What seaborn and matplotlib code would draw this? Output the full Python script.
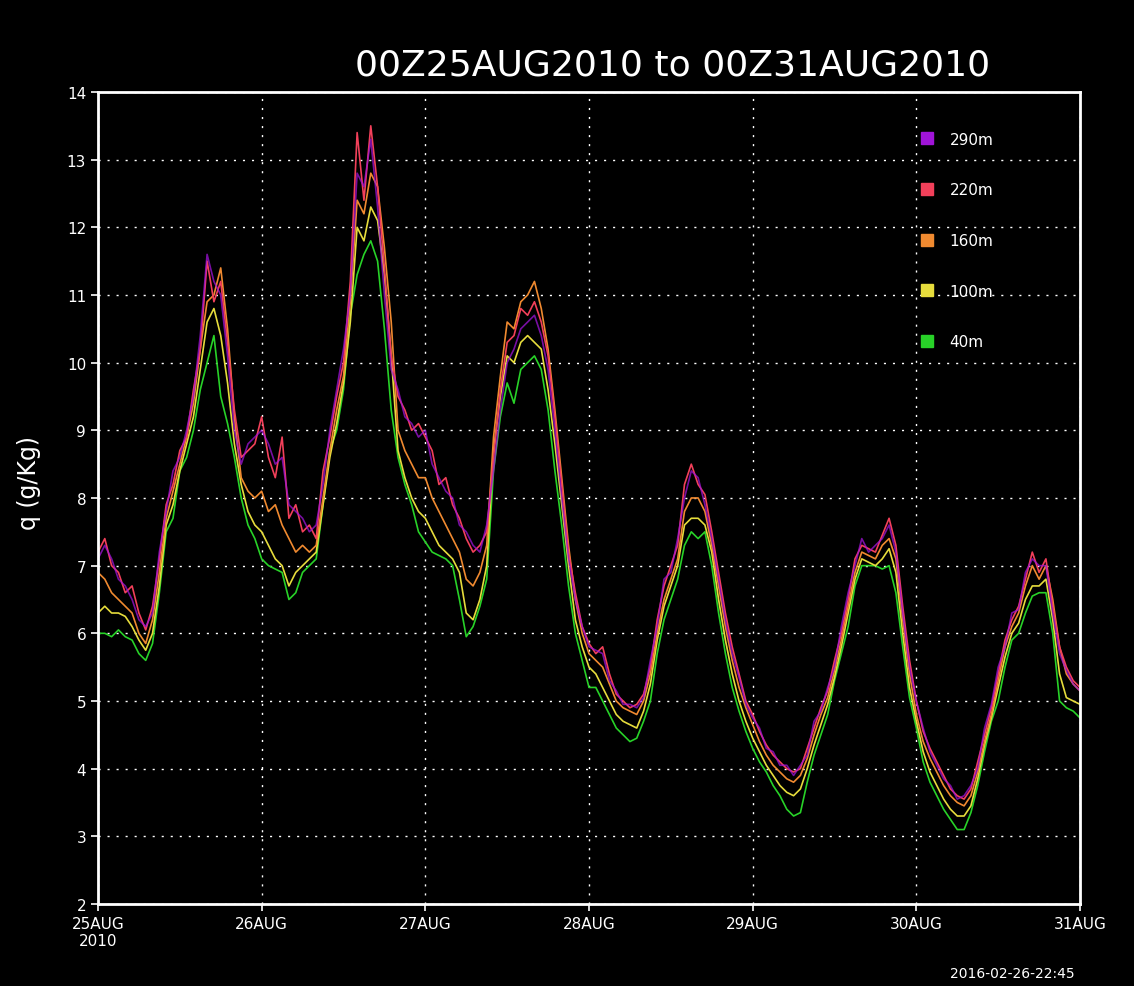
import numpy as np
import pandas as pd
import matplotlib
matplotlib.use("Agg")
import matplotlib.pyplot as plt
import seaborn as sns
from matplotlib.lines import Line2D

# ---------------- data (hourly, 00Z25AUG2010 .. 00Z31AUG2010) ----------------
q290 = [7.1, 7.3, 7.1, 6.8, 6.7, 6.5, 6.2, 6.1, 6.3, 7.2, 7.8, 8.4,
        8.6, 9.0, 9.5, 10.4, 11.6, 11.2, 11.0, 10.1, 9.0, 8.5, 8.8, 8.9,
        9.0, 8.8, 8.5, 8.6, 7.9, 7.8, 7.7, 7.5, 7.6, 8.2, 9.0, 9.6,
        10.2, 11.0, 12.8, 12.6, 13.3, 12.3, 11.0, 9.9, 9.6, 9.2, 9.1, 8.9,
        9.0, 8.5, 8.3, 8.1, 8.0, 7.6, 7.5, 7.3, 7.2, 7.6, 8.4, 9.3,
        10.0, 10.2, 10.5, 10.6, 10.7, 10.4, 9.9, 9.0, 8.0, 7.1, 6.5, 6.1,
        5.8, 5.75, 5.7, 5.3, 5.15, 4.95, 4.95, 4.9, 5.05, 5.6, 6.1, 6.8,
        6.9, 7.4, 8.0, 8.4, 8.3, 7.9, 7.4, 6.8, 6.2, 5.7, 5.35, 4.95,
        4.75, 4.6, 4.3, 4.25, 4.05, 4.05, 3.9, 4.05, 4.2, 4.7, 4.85, 5.2,
        5.5, 6.1, 6.6, 7.0, 7.4, 7.2, 7.3, 7.4, 7.6, 7.2, 6.3, 5.5,
        5.0, 4.6, 4.25, 4.05, 3.85, 3.75, 3.55, 3.6, 3.75, 4.0, 4.6, 4.95,
        5.5, 5.8, 6.3, 6.35, 6.9, 7.1, 7.0, 7.0, 6.3, 5.7, 5.45, 5.25,
        5.15]

q220 = [7.2, 7.4, 7.0, 6.9, 6.6, 6.7, 6.3, 6.05, 6.4, 7.1, 7.9, 8.2,
        8.7, 8.9, 9.6, 10.2, 11.5, 10.9, 11.2, 10.3, 9.3, 8.6, 8.7, 8.8,
        9.2, 8.6, 8.3, 8.9, 7.7, 7.9, 7.5, 7.6, 7.4, 8.4, 8.9, 9.5,
        10.0, 11.2, 13.4, 12.4, 13.5, 12.6, 11.4, 10.1, 9.5, 9.3, 9.0, 9.1,
        8.9, 8.7, 8.2, 8.3, 7.9, 7.7, 7.4, 7.2, 7.3, 7.5, 8.6, 9.6,
        10.3, 10.4, 10.8, 10.7, 10.9, 10.6, 10.1, 9.2, 8.2, 7.2, 6.6, 6.1,
        5.85, 5.7, 5.8, 5.4, 5.1, 5.0, 4.9, 4.95, 5.1, 5.5, 6.2, 6.7,
        7.0, 7.3, 8.2, 8.5, 8.2, 8.05, 7.5, 6.9, 6.3, 5.8, 5.4, 5.0,
        4.8, 4.55, 4.35, 4.2, 4.1, 4.0, 3.95, 4.0, 4.3, 4.6, 4.9, 5.15,
        5.6, 6.0, 6.5, 7.1, 7.3, 7.25, 7.2, 7.45, 7.7, 7.3, 6.4, 5.6,
        5.0, 4.55, 4.3, 4.1, 3.9, 3.7, 3.6, 3.55, 3.7, 4.1, 4.5, 4.9,
        5.4, 5.9, 6.2, 6.4, 6.8, 7.2, 6.9, 7.1, 6.4, 5.8, 5.5, 5.3,
        5.2]

q160 = [6.9, 6.8, 6.6, 6.5, 6.4, 6.3, 6.0, 5.85, 6.2, 6.9, 7.7, 8.1,
        8.5, 8.9, 9.4, 10.2, 10.9, 11.0, 11.4, 10.5, 9.2, 8.3, 8.1, 8.0,
        8.1, 7.8, 7.9, 7.6, 7.4, 7.2, 7.3, 7.2, 7.3, 8.0, 8.7, 9.3,
        9.8, 10.9, 12.4, 12.2, 12.8, 12.6, 11.7, 10.6, 9.0, 8.7, 8.5, 8.3,
        8.3, 8.0, 7.8, 7.6, 7.4, 7.2, 6.8, 6.7, 6.9, 7.3, 8.9, 9.8,
        10.6, 10.5, 10.9, 11.0, 11.2, 10.8, 10.2, 9.3, 8.3, 7.3, 6.5, 6.0,
        5.7, 5.6, 5.5, 5.25, 5.0, 4.9, 4.85, 4.8, 5.0, 5.4, 6.0, 6.5,
        6.8, 7.1, 7.8, 8.0, 8.0, 7.8, 7.3, 6.7, 6.1, 5.6, 5.2, 4.9,
        4.65, 4.4, 4.2, 4.05, 3.95, 3.85, 3.8, 3.9, 4.15, 4.5, 4.8, 5.05,
        5.45, 5.9, 6.4, 6.9, 7.2, 7.15, 7.1, 7.3, 7.4, 7.1, 6.2, 5.4,
        4.8, 4.4, 4.15, 3.95, 3.75, 3.6, 3.5, 3.45, 3.6, 3.95, 4.4, 4.8,
        5.3, 5.8, 6.1, 6.3, 6.7, 7.0, 6.8, 7.0, 6.5, 5.8, 5.4, 5.25,
        5.15]

q100 = [6.3, 6.4, 6.3, 6.3, 6.25, 6.1, 5.9, 5.75, 6.0, 6.7, 7.6, 7.9,
        8.4, 8.8, 9.2, 9.9, 10.6, 10.8, 10.4, 9.7, 8.8, 8.2, 7.8, 7.6,
        7.5, 7.3, 7.1, 7.0, 6.7, 6.9, 7.0, 7.1, 7.2, 7.9, 8.6, 9.1,
        9.7, 10.6, 12.0, 11.8, 12.3, 12.1, 11.3, 10.1, 8.7, 8.3, 8.0, 7.8,
        7.7, 7.5, 7.3, 7.2, 7.1, 6.9, 6.3, 6.2, 6.5, 7.0, 8.7, 9.5,
        10.1, 10.0, 10.3, 10.4, 10.3, 10.2, 9.6, 8.8, 7.9, 7.0, 6.2, 5.8,
        5.5, 5.4, 5.2, 5.0, 4.8, 4.7, 4.65, 4.6, 4.85, 5.25, 5.9, 6.4,
        6.7, 7.0, 7.6, 7.7, 7.7, 7.6, 7.2, 6.5, 5.9, 5.4, 5.0, 4.7,
        4.45, 4.25, 4.05, 3.9, 3.75, 3.65, 3.6, 3.7, 4.0, 4.35, 4.65, 4.95,
        5.35, 5.8, 6.3, 6.8, 7.1, 7.05, 7.0, 7.1, 7.25, 6.9, 6.0, 5.2,
        4.7, 4.25, 3.95, 3.75, 3.55, 3.4, 3.3, 3.3, 3.45, 3.85, 4.35, 4.75,
        5.2, 5.65, 6.0, 6.15, 6.5, 6.7, 6.7, 6.8, 6.2, 5.4, 5.05, 5.0,
        4.95]

q40 = [6.0, 6.0, 5.95, 6.05, 5.95, 5.9, 5.7, 5.6, 5.85, 6.6, 7.5, 7.7,
       8.4, 8.6, 9.0, 9.6, 10.0, 10.4, 9.5, 9.1, 8.6, 8.0, 7.6, 7.4,
       7.1, 7.0, 6.95, 6.9, 6.5, 6.6, 6.9, 7.0, 7.1, 7.9, 8.7, 9.0,
       9.6, 10.7, 11.3, 11.6, 11.8, 11.5, 10.5, 9.3, 8.6, 8.2, 7.9, 7.5,
       7.35, 7.2, 7.15, 7.1, 7.0, 6.5, 5.95, 6.1, 6.4, 6.8, 8.4, 9.2,
       9.7, 9.4, 9.9, 10.0, 10.1, 9.9, 9.3, 8.4, 7.6, 6.7, 6.0, 5.6,
       5.2, 5.2, 5.0, 4.8, 4.6, 4.5, 4.4, 4.45, 4.7, 5.0, 5.7, 6.2,
       6.5, 6.8, 7.3, 7.5, 7.4, 7.5, 7.0, 6.3, 5.7, 5.2, 4.85, 4.55,
       4.3, 4.1, 3.95, 3.75, 3.6, 3.4, 3.3, 3.35, 3.8, 4.2, 4.5, 4.8,
       5.3, 5.7, 6.1, 6.7, 7.0, 7.0, 7.0, 6.95, 7.0, 6.6, 5.8, 5.05,
       4.6, 4.1, 3.8, 3.6, 3.4, 3.25, 3.1, 3.1, 3.35, 3.75, 4.25, 4.7,
       5.0, 5.5, 5.9, 6.0, 6.3, 6.55, 6.6, 6.6, 6.0, 5.0, 4.9, 4.85,
       4.75]

levels = ["290m", "220m", "160m", "100m", "40m"]
level_colors = ["#a014d8", "#f2405a", "#f08a30", "#e6dc3c", "#28d228"]
day_labels = ["25AUG\n2010", "26AUG", "27AUG", "28AUG", "29AUG", "30AUG", "31AUG"]
y_ticks = [2, 3, 4, 5, 6, 7, 8, 9, 10, 11, 12, 13, 14]
title_text = "00Z25AUG2010 to 00Z31AUG2010"
ylabel_text = "q (g/Kg)"
stamp_text = "2016-02-26-22:45"

# ---------------- long-form table ----------------
series = dict(zip(levels, [q290, q220, q160, q100, q40]))
times = pd.date_range("2010-08-25 00:00", periods=len(q220), freq="h")
df = pd.concat(
    [pd.DataFrame({"time": times, "q": vals, "level": lev}) for lev, vals in series.items()],
    ignore_index=True,
)
palette = dict(zip(levels, level_colors))

# ---------------- figure ----------------
fig = plt.figure(figsize=(11.34, 9.87), dpi=100, facecolor="black")
ax = fig.add_axes([0.0864, 0.0831, 0.866, 0.8227])
ax.set_facecolor("black")

draw_order = ["40m", "100m", "160m", "220m", "290m"]
for lev in draw_order:
    sns.lineplot(data=df[df["level"] == lev], x="time", y="q", color=palette[lev],
                 ax=ax, linewidth=1.2, estimator=None, legend=False,
                 alpha=0.75 if lev == "290m" else 1.0)

ax.set_xlim(times[0], times[-1])
ax.set_ylim(2, 14)
day_ticks = pd.date_range("2010-08-25", periods=len(day_labels), freq="D")
ax.set_xticks(day_ticks)
ax.set_xticklabels(day_labels)
ax.set_yticks(y_ticks)
ax.set_yticklabels([str(v) for v in y_ticks])
ax.set_xlabel("")
ax.set_ylabel("")

ax.grid(True, color="white", linestyle=(0, (1.5, 5)), linewidth=1.0)
ax.set_axisbelow(True)
for sp in ax.spines.values():
    sp.set_color("white")
    sp.set_linewidth(2)
ax.tick_params(colors="white", labelcolor="white", labelsize=11, length=5, width=1.2, direction="out")

handles = [Line2D([], [], marker="s", linestyle="none", markersize=8,
                  markerfacecolor=palette[l], markeredgecolor=palette[l], label=l)
           for l in levels]
leg = ax.legend(handles=handles, loc="upper left", bbox_to_anchor=(0.822, 0.968),
                frameon=False, labelcolor="white", fontsize=11, labelspacing=2.33,
                handletextpad=1.0, handlelength=1.0)

fig.text(0.593, 0.934, title_text, ha="center", va="center", color="white", fontsize=26)
fig.text(0.026, 0.511, ylabel_text, ha="center", va="center", rotation=90, color="white", fontsize=17)
fig.text(0.948, 0.006, stamp_text, ha="right", va="bottom", color="white", fontsize=10)

fig.savefig("out.png", dpi=100, facecolor="black")
